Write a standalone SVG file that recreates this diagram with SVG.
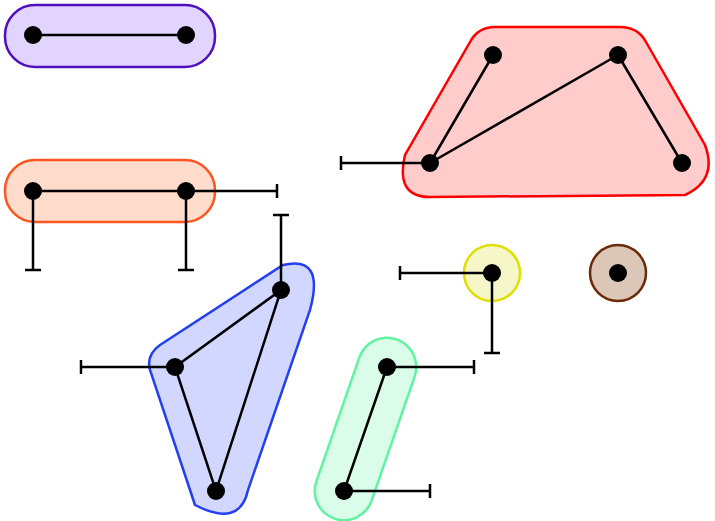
<svg xmlns="http://www.w3.org/2000/svg" width="715" height="521" viewBox="0 0 715 521">
<style>
.n{fill:#000}
.e{stroke:#000;stroke-width:2.5;fill:none}
.h{stroke-width:2.5}
</style>
<rect width="715" height="521" fill="#fff"/>
<g id="hulls">
<rect id="purple" x="5" y="5" width="210" height="62" rx="30" fill="#e1d5ff" stroke="#5010c0" class="h"/>
<rect id="orange" x="5" y="160" width="210" height="62" rx="30" fill="#ffdccc" stroke="#ff5520" class="h"/>
<path id="red" d="M495 27 L620 27 Q638 27 646 42 L705 145 Q718 180 685 195 L430 197 Q395 197 405 155 L470 42 Q478 27 495 27 Z" fill="#ffcccc" stroke="#f00" class="h"/>
<circle id="yellow" cx="492" cy="273" r="28" fill="#f6f7c8" stroke="#dde000" class="h"/>
<circle id="brown" cx="618" cy="273" r="28" fill="#dcc6b8" stroke="#6b2a05" class="h"/>
<path id="blue" d="M160 345 L283 265 Q325 255 310 310 L248 490 Q240 528 195 505 L150 370 Q146 355 160 345 Z" fill="#d1d7ff" stroke="#2340ee" class="h"/>
<g id="green"><line x1="387" y1="367" x2="344" y2="491" stroke="#5ff5a0" stroke-width="61" stroke-linecap="round"/><line x1="387" y1="367" x2="344" y2="491" stroke="#dafde9" stroke-width="56" stroke-linecap="round"/></g>
</g>
<g id="connectors" class="e">
<path d="M33 35H186"/>
<path d="M33 191H186M186 191H277M277 184V198M33 191V270M25 270H41M186 191V270M178 270H194"/>
<path d="M430 163L493 55M430 163L618 55M618 55L682 163M430 163H341M341 156V170"/>
<path d="M492 273H400M400 266V280M492 273V353M484 353H500"/>
<path d="M281 290L175 367L216 491Z M281 290V215M273 215H289M175 367H81M81 360V374"/>
<path d="M387 367L344 491M387 367H474M474 360V374M344 491H430M430 484V498"/>
</g>
<g id="nodes" class="n">
<circle cx="33" cy="35" r="9"/><circle cx="186" cy="35" r="9"/>
<circle cx="33" cy="191" r="9"/><circle cx="186" cy="191" r="9"/>
<circle cx="493" cy="55" r="9"/><circle cx="618" cy="55" r="9"/><circle cx="682" cy="163" r="9"/><circle cx="430" cy="163" r="9"/>
<circle cx="492" cy="273" r="9"/><circle cx="618" cy="273" r="9"/>
<circle cx="281" cy="290" r="9"/><circle cx="175" cy="367" r="9"/><circle cx="216" cy="491" r="9"/>
<circle cx="387" cy="367" r="9"/><circle cx="344" cy="491" r="9"/>
</g>
</svg>
